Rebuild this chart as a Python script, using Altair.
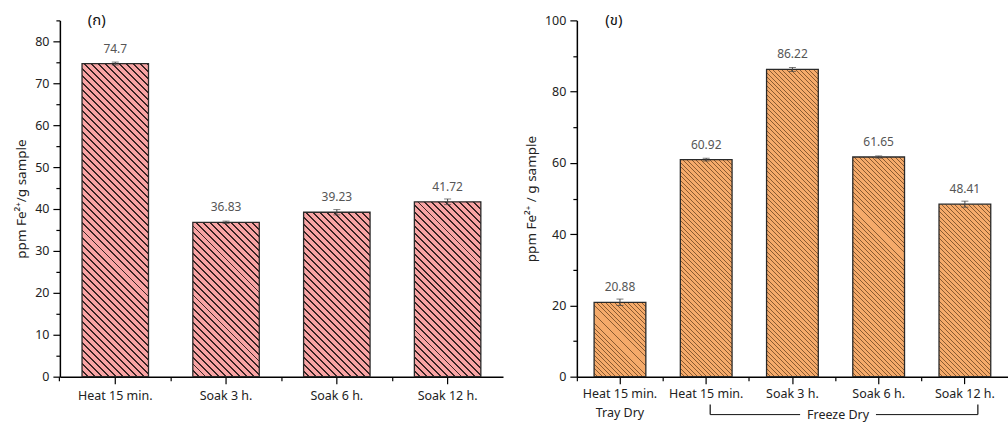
import json
import altair as alt
import pandas as pd

# ---------------- data ----------------
cats_a = ["Heat 15 min.", "Soak 3 h.", "Soak 6 h.", "Soak 12 h."]
vals_a = [74.7, 36.83, 39.23, 41.72]
errs_a = [0.35, 0.28, 0.63, 0.67]
labels_a = ["74.7", "36.83", "39.23", "41.72"]

cats_b = ["Heat 15 min.", "Heat 15 min.", "Soak 3 h.", "Soak 6 h.", "Soak 12 h."]
groups_b = ["Tray Dry", "Freeze Dry", "Freeze Dry", "Freeze Dry", "Freeze Dry"]
vals_b = [20.88, 60.92, 86.22, 61.65, 48.41]
errs_b = [0.9, 0.4, 0.55, 0.3, 0.85]
labels_b = ["20.88", "60.92", "86.22", "61.65", "48.41"]

y_major_a = [0, 10, 20, 30, 40, 50, 60, 70, 80]
y_minor_a = [5, 15, 25, 35, 45, 55, 65, 75, 85]
y_major_b = [0, 20, 40, 60, 80, 100]
y_minor_b = [10, 30, 50, 70, 90]

panel_titles = ["(ก)", "(ข)"]
ytitle_a = "ppm Fe²⁺/g sample"
ytitle_b = "ppm Fe²⁺ / g sample"
bracket_label = "Freeze Dry"

FONT = "Noto Sans"
THAI_FONT = "Noto Sans Thai, Loma, Garuda, Tlwg Typo, Tahoma, sans-serif"
PI = 0.4  # band padding inner
H = 357


def hatch(w, h, base, dark, spacing, frac):
    """Diagonal '\\' hatching as a linear gradient in bbox units."""
    n = max(1, round((w + h) / spacing))
    k = (w + h) / (w * w + h * h)
    stops = []
    for i in range(n):
        a = round(i / n, 5)
        b = round((i + 1 - frac) / n, 5)
        c = round((i + 1) / n, 5)
        stops += [
            {"offset": a, "color": base},
            {"offset": b, "color": base},
            {"offset": b, "color": dark},
            {"offset": c, "color": dark},
        ]
    return {"gradient": "linear", "x1": 0, "y1": 1,
            "x2": round(w * k, 6), "y2": round(1 - h * k, 6), "stops": stops}


def panel(keys, vals, errs, labs, ymax, major, minor, ytitle, W,
          base, dark, spacing, frac, ptitle, label_expr=None, extra=None,
          label_pad=3):
    df = pd.DataFrame({"key": keys, "val": vals, "err": errs, "lab": labs})
    df["lo"] = df["val"] - df["err"]
    df["hi"] = df["val"] + df["err"]
    bw = W / len(keys) * (1 - PI)
    ppu = H / ymax
    grads = [hatch(bw, v * ppu, base, dark, spacing, frac) for v in vals]
    fill = {
        "condition": [
            {"test": f"datum.key === {json.dumps(k)}", "value": g}
            for k, g in zip(keys[:-1], grads[:-1])
        ],
        "value": grads[-1],
    }
    xscale = alt.Scale(paddingInner=PI, paddingOuter=PI / 2)
    yscale = alt.Scale(domain=[0, ymax], nice=False, zero=True)

    ax_kw = dict(title=None, labelAngle=0, tickSize=7, tickColor="#000",
                 tickWidth=1.2, domainColor="#000", domainWidth=1.5,
                 labelFontSize=12.5, labelColor="#222", labelPadding=label_pad,
                 labelFont=FONT, grid=False, labelLineHeight=19,
                 orient="bottom")
    if label_expr:
        ax_kw["labelExpr"] = label_expr
    x_major = alt.X("key:N", sort=keys, scale=xscale, axis=alt.Axis(**ax_kw))
    x_minor = alt.X("key:N", sort=keys, scale=xscale,
                    axis=alt.Axis(title=None, labels=False, tickSize=4,
                                  tickColor="#000", tickWidth=1.2, domain=False,
                                  bandPosition=-1 / 3, grid=False,
                                  orient="bottom"))
    x_none = alt.X("key:N", sort=keys, scale=xscale, axis=None)

    y_major = alt.Y("val:Q", scale=yscale,
                    axis=alt.Axis(values=major, title=ytitle, tickSize=7,
                                  tickColor="#000", tickWidth=1.2,
                                  domainColor="#000", domainWidth=1.5,
                                  labelFontSize=12.5, labelColor="#222",
                                  labelPadding=4, labelFont=FONT,
                                  titleFont=FONT, titleFontSize=13.5,
                                  titleFontWeight="normal", titleColor="#222",
                                  titlePadding=6, grid=False, orient="left"))
    y_minor = alt.Y("lo:Q", scale=yscale,
                    axis=alt.Axis(values=minor, labels=False, tickSize=4,
                                  tickColor="#000", tickWidth=1.2, domain=False,
                                  title=None, grid=False, orient="left"))

    base_c = alt.Chart(df)
    bars = base_c.mark_bar(stroke="#2a2a2a", strokeWidth=1.3).encode(
        x=x_major, y=y_major, fill=fill)
    err = base_c.mark_rule(color="#444", strokeWidth=1).encode(
        x=x_minor, y=y_minor, y2="hi:Q")
    cap_lo = base_c.mark_tick(color="#444", thickness=1, size=7,
                              orient="horizontal").encode(
        x=x_none, y=alt.Y("lo:Q", scale=yscale, axis=None))
    cap_hi = base_c.mark_tick(color="#444", thickness=1, size=7,
                              orient="horizontal").encode(
        x=x_none, y=alt.Y("hi:Q", scale=yscale, axis=None))
    txt = base_c.mark_text(dy=-15, baseline="middle", fontSize=12,
                           color="#555", font=FONT).encode(
        x=x_none, y=alt.Y("val:Q", scale=yscale, axis=None), text="lab:N")
    ttl = alt.Chart(pd.DataFrame({"t": [ptitle]})).mark_text(
        fontSize=15, color="#111", font=THAI_FONT, baseline="middle",
        align="center").encode(text="t:N", x=alt.value(37), y=alt.value(0))
    layers = [bars, err, cap_lo, cap_hi, txt, ttl]
    if extra:
        layers += extra
    return alt.layer(*layers).properties(width=W, height=H).resolve_axis(
        x="independent", y="independent")


W_A = 444
W_B = 432

left = panel(cats_a, vals_a, errs_a, labels_a, 85, y_major_a, y_minor_a,
             ytitle_a, W_A, "#F8A4A4", "#3a2424", 7.0, 0.28, panel_titles[0],
             label_pad=6)

keys_b = [g + "|" + c for g, c in zip(groups_b, cats_b)]
label_expr_b = ("split(datum.label, '|')[0] == 'Tray Dry' ? "
                "[split(datum.label, '|')[1], split(datum.label, '|')[0]] : "
                "split(datum.label, '|')[1]")

# bracket under the freeze-dry group (annotation)
step_b = W_B / len(keys_b)
bx0 = step_b * 1.5 + 4
bx1 = step_b * 4.5 + 13
tx = (bx0 + bx1) / 2 - 6
bracket_df = pd.DataFrame({"t": [bracket_label]})
bc = alt.Chart(bracket_df)
ly = H + 38
bracket = [
    bc.mark_rule(color="#111", strokeWidth=1.2).encode(
        x=alt.value(bx0), y=alt.value(H + 28), y2=alt.value(ly)),
    bc.mark_rule(color="#111", strokeWidth=1.2).encode(
        x=alt.value(bx1), y=alt.value(H + 28), y2=alt.value(ly)),
    bc.mark_rule(color="#111", strokeWidth=1).encode(
        x=alt.value(bx0), x2=alt.value(tx - 38), y=alt.value(ly)),
    bc.mark_rule(color="#111", strokeWidth=1).encode(
        x=alt.value(tx + 38), x2=alt.value(bx1), y=alt.value(ly)),
    bc.mark_text(fontSize=12.5, color="#222", font=FONT, baseline="middle",
                 align="center").encode(
        text="t:N", x=alt.value(tx), y=alt.value(ly)),
]

right = panel(keys_b, vals_b, errs_b, labels_b, 100, y_major_b, y_minor_b,
              ytitle_b, W_B, "#F5AA6A", "#8a5a30", 4.5, 0.22, panel_titles[1],
              label_expr=label_expr_b, extra=bracket, label_pad=4)

chart = alt.hconcat(left, right, spacing=74, bounds="flush").properties(
    padding={"left": 14, "top": 13, "right": 0, "bottom": 0}
).configure(font=FONT).configure_view(strokeWidth=0)

chart.save("out.html", embed_options={"renderer": "svg", "actions": False})
